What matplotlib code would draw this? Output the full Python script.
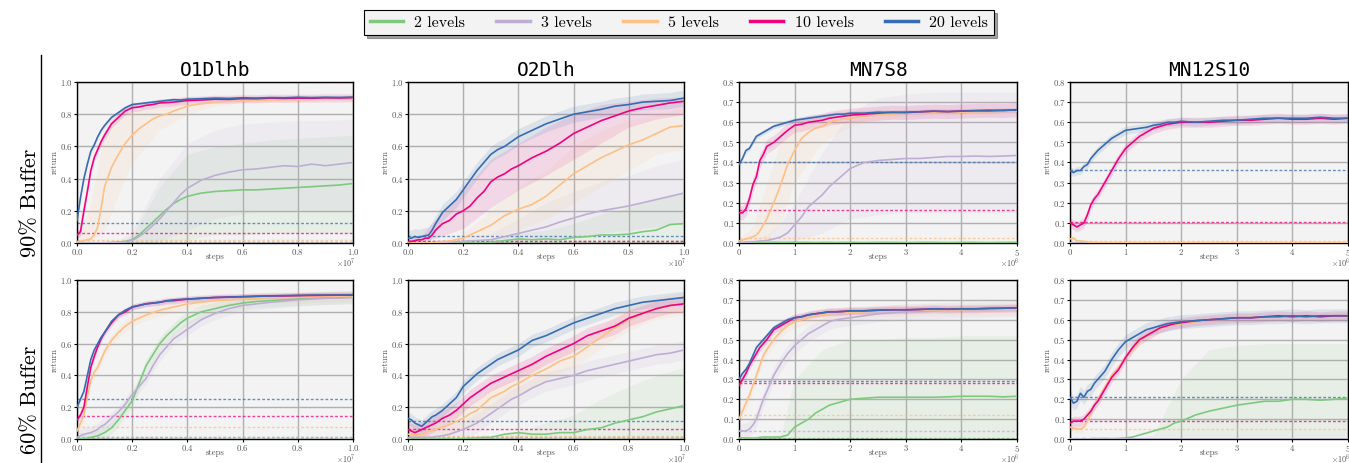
import numpy as np
import matplotlib
matplotlib.use("Agg")
import matplotlib.pyplot as plt
from matplotlib.lines import Line2D
from matplotlib.ticker import ScalarFormatter

plt.rcParams['font.family'] = ['cmr10', 'DejaVu Serif']
plt.rcParams['mathtext.fontset'] = 'cm'
plt.rcParams['axes.formatter.use_mathtext'] = True
plt.rcParams['axes.unicode_minus'] = False

# ---------------- data ----------------
LEVELS = ["2 levels", "3 levels", "5 levels", "10 levels", "20 levels"]
COLORS = ["#7fc97f", "#beaed4", "#fdc086", "#f0027f", "#386cb0"]
ENVS = ["O1Dlhb", "O2Dlh", "MN7S8", "MN12S10"]
ROWS = ["90% Buffer", "60% Buffer"]
MAX_STEPS = [1e7, 1e7, 5e6, 5e6]
Y_MAX = [1.0, 1.0, 0.8, 0.8]

# fraction of training progress at which values were read
FRAC = [0, 0.0125, 0.025, 0.0375, 0.05, 0.0625, 0.075, 0.0875, 0.1, 0.125, 0.15,
        0.175, 0.2, 0.225, 0.25, 0.275, 0.3, 0.325, 0.35, 0.375, 0.4, 0.45, 0.5,
        0.55, 0.6, 0.65, 0.7, 0.75, 0.8, 0.85, 0.9, 0.95, 1.0]
BAND_FRAC = [0, 0.05, 0.1, 0.15, 0.2, 0.3, 0.4, 0.5, 0.6, 0.7, 0.8, 0.9, 1.0]

# ---- 90% buffer, O1Dlhb ----
A_green = [0, 0, 0, 0, 0, 0, 0, 0, 0, 0.002, 0.005, 0.01, 0.02, 0.05, 0.09, 0.13, 0.17, 0.21, 0.245, 0.27, 0.29, 0.31, 0.32, 0.325, 0.33, 0.33, 0.335, 0.34, 0.345, 0.35, 0.355, 0.36, 0.37]
A_purple = [0, 0, 0, 0, 0, 0, 0, 0, 0.002, 0.003, 0.005, 0.008, 0.015, 0.04, 0.07, 0.11, 0.15, 0.20, 0.25, 0.30, 0.34, 0.39, 0.42, 0.44, 0.455, 0.46, 0.47, 0.48, 0.475, 0.49, 0.48, 0.49, 0.50]
A_orange = [0.01, 0.01, 0.015, 0.02, 0.025, 0.05, 0.10, 0.22, 0.35, 0.47, 0.55, 0.62, 0.67, 0.71, 0.74, 0.77, 0.79, 0.80, 0.82, 0.835, 0.85, 0.865, 0.875, 0.88, 0.882, 0.886, 0.888, 0.89, 0.89, 0.892, 0.893, 0.894, 0.895]
A_pink = [0.05, 0.07, 0.20, 0.32, 0.45, 0.53, 0.58, 0.63, 0.67, 0.74, 0.78, 0.82, 0.84, 0.845, 0.855, 0.86, 0.87, 0.872, 0.875, 0.88, 0.885, 0.888, 0.893, 0.892, 0.897, 0.896, 0.9, 0.898, 0.9, 0.899, 0.902, 0.901, 0.903]
A_blue = [0.14, 0.28, 0.40, 0.49, 0.57, 0.61, 0.66, 0.70, 0.73, 0.78, 0.81, 0.84, 0.86, 0.865, 0.87, 0.875, 0.88, 0.885, 0.89, 0.888, 0.893, 0.896, 0.9, 0.898, 0.902, 0.9, 0.903, 0.902, 0.905, 0.903, 0.905, 0.904, 0.906]
A_base = [0.005, 0.005, 0.02, 0.065, 0.125]
A_spread = [0.02, 0.02, 0.03, 0.025, 0.012]
A_green_lo = [0, 0, 0, 0, 0, 0, 0.02, 0.05, 0.05, 0.06, 0.06, 0.06, 0.06]
A_green_hi = [0, 0, 0, 0, 0.05, 0.35, 0.55, 0.60, 0.62, 0.64, 0.65, 0.66, 0.67]
A_purple_lo = [0, 0, 0, 0, 0, 0.01, 0.08, 0.15, 0.18, 0.20, 0.20, 0.20, 0.20]
A_purple_hi = [0, 0, 0, 0.01, 0.08, 0.40, 0.62, 0.70, 0.74, 0.75, 0.76, 0.76, 0.77]
A_orange_lo = [0.0, 0.01, 0.08, 0.30, 0.50, 0.70, 0.80, 0.85, 0.87, 0.875, 0.88, 0.885, 0.885]
A_orange_hi = [0.02, 0.25, 0.70, 0.78, 0.82, 0.86, 0.89, 0.90, 0.90, 0.90, 0.905, 0.905, 0.905]

# ---- 90% buffer, O2Dlh ----
B_green = [0, 0, 0, 0, 0, 0, 0, 0, 0, 0, 0, 0, 0, 0, 0, 0, 0.005, 0.01, 0.015, 0.02, 0.025, 0.02, 0.025, 0.02, 0.035, 0.04, 0.05, 0.05, 0.055, 0.07, 0.08, 0.115, 0.12]
B_purple = [0, 0, 0, 0, 0, 0, 0, 0, 0.002, 0.004, 0.006, 0.008, 0.01, 0.013, 0.015, 0.018, 0.02, 0.03, 0.04, 0.05, 0.06, 0.08, 0.10, 0.13, 0.155, 0.18, 0.20, 0.215, 0.23, 0.25, 0.27, 0.29, 0.31]
B_orange = [0, 0, 0, 0, 0, 0, 0, 0.002, 0.004, 0.008, 0.012, 0.02, 0.03, 0.05, 0.07, 0.09, 0.11, 0.14, 0.17, 0.19, 0.21, 0.24, 0.29, 0.36, 0.43, 0.48, 0.53, 0.57, 0.61, 0.64, 0.68, 0.72, 0.73]
B_pink = [0.01, 0.01, 0.015, 0.02, 0.02, 0.03, 0.03, 0.05, 0.08, 0.12, 0.14, 0.18, 0.20, 0.23, 0.28, 0.32, 0.38, 0.41, 0.43, 0.46, 0.48, 0.53, 0.57, 0.62, 0.68, 0.72, 0.76, 0.79, 0.82, 0.84, 0.855, 0.87, 0.88]
B_blue = [0.03, 0.03, 0.04, 0.035, 0.04, 0.045, 0.05, 0.08, 0.12, 0.19, 0.23, 0.27, 0.33, 0.39, 0.45, 0.50, 0.55, 0.58, 0.60, 0.63, 0.66, 0.70, 0.74, 0.77, 0.80, 0.815, 0.83, 0.85, 0.86, 0.875, 0.88, 0.885, 0.90]
B_base = [0.01, 0.01, 0.01, 0.015, 0.045]
B_spread = [0.02, 0.03, 0.06, 0.08, 0.05]
B_green_lo = [0, 0, 0, 0, 0, 0, 0, 0, 0, 0, 0, 0, 0]
B_green_hi = [0, 0, 0, 0, 0, 0.02, 0.06, 0.08, 0.12, 0.18, 0.22, 0.28, 0.32]
B_purple_lo = [0, 0, 0, 0, 0, 0, 0, 0.02, 0.04, 0.06, 0.08, 0.10, 0.12]
B_purple_hi = [0, 0, 0, 0.01, 0.02, 0.06, 0.15, 0.25, 0.32, 0.38, 0.42, 0.48, 0.52]
B_orange_lo = [0, 0, 0, 0, 0.01, 0.04, 0.08, 0.15, 0.25, 0.35, 0.45, 0.55, 0.58]
B_orange_hi = [0.01, 0.01, 0.01, 0.03, 0.06, 0.20, 0.35, 0.45, 0.60, 0.70, 0.76, 0.80, 0.84]
B_pink_lo = [0.0, 0.01, 0.03, 0.06, 0.09, 0.22, 0.33, 0.42, 0.52, 0.62, 0.72, 0.77, 0.80]
B_pink_hi = [0.02, 0.05, 0.15, 0.24, 0.33, 0.52, 0.62, 0.72, 0.80, 0.86, 0.88, 0.90, 0.91]

# ---- 90% buffer, MN7S8 ----
C_green = [0.003, 0.003, 0.002, 0.003, 0.004, 0.003, 0.003, 0.002, 0.003, 0.004, 0.003, 0.003, 0.004, 0.003, 0.003, 0.002, 0.003, 0.003, 0.002, 0.003, 0.003, 0.002, 0.003, 0.003, 0.002, 0.003, 0.003, 0.002, 0.003, 0.003, 0.002, 0.003, 0.003]
C_purple = [0, 0, 0.005, 0.005, 0.005, 0.008, 0.01, 0.01, 0.012, 0.02, 0.03, 0.05, 0.09, 0.13, 0.18, 0.21, 0.24, 0.28, 0.31, 0.34, 0.37, 0.40, 0.41, 0.415, 0.42, 0.42, 0.425, 0.43, 0.43, 0.432, 0.43, 0.432, 0.435]
C_orange = [0.01, 0.015, 0.02, 0.025, 0.03, 0.04, 0.06, 0.09, 0.12, 0.20, 0.29, 0.39, 0.46, 0.52, 0.55, 0.57, 0.58, 0.60, 0.61, 0.615, 0.62, 0.63, 0.635, 0.64, 0.645, 0.645, 0.648, 0.65, 0.65, 0.652, 0.653, 0.654, 0.655]
C_pink = [0.15, 0.15, 0.17, 0.22, 0.29, 0.33, 0.41, 0.44, 0.48, 0.50, 0.53, 0.56, 0.585, 0.59, 0.60, 0.605, 0.61, 0.62, 0.625, 0.63, 0.635, 0.64, 0.645, 0.65, 0.648, 0.652, 0.655, 0.653, 0.656, 0.658, 0.66, 0.658, 0.662]
C_blue = [0.39, 0.42, 0.46, 0.47, 0.50, 0.53, 0.54, 0.55, 0.56, 0.58, 0.59, 0.60, 0.61, 0.615, 0.62, 0.625, 0.63, 0.635, 0.64, 0.64, 0.645, 0.645, 0.65, 0.648, 0.65, 0.652, 0.655, 0.653, 0.655, 0.657, 0.656, 0.66, 0.66]
C_base = [0.002, 0.003, 0.025, 0.165, 0.40]
C_spread = [0.003, 0.05, 0.05, 0.035, 0.012]
C_purple_lo = [0, 0, 0, 0, 0.01, 0.05, 0.12, 0.14, 0.15, 0.15, 0.15, 0.15, 0.15]
C_purple_hi = [0.01, 0.02, 0.04, 0.10, 0.20, 0.45, 0.65, 0.72, 0.74, 0.75, 0.75, 0.75, 0.75]
C_orange_lo = [0, 0, 0.02, 0.10, 0.30, 0.50, 0.58, 0.61, 0.625, 0.635, 0.64, 0.64, 0.645]
C_orange_hi = [0.02, 0.08, 0.30, 0.50, 0.60, 0.64, 0.65, 0.66, 0.665, 0.665, 0.67, 0.67, 0.67]

# ---- 90% buffer, MN12S10 ----
D_green = [0.001] * 33
D_purple = [0.002] * 33
D_orange = [0.02, 0.025, 0.01, 0.01, 0.008, 0.005, 0.004, 0.003, 0.002, 0.002, 0.001, 0.002, 0.001, 0.002, 0.001, 0.002, 0.001, 0.002, 0.001, 0.002, 0.001, 0.002, 0.001, 0.002, 0.001, 0.002, 0.001, 0.002, 0.001, 0.002, 0.001, 0.002, 0.001]
D_pink = [0.10, 0.09, 0.08, 0.09, 0.10, 0.14, 0.19, 0.22, 0.24, 0.30, 0.36, 0.42, 0.47, 0.50, 0.53, 0.55, 0.57, 0.58, 0.59, 0.595, 0.60, 0.60, 0.60, 0.605, 0.61, 0.61, 0.615, 0.62, 0.615, 0.615, 0.62, 0.615, 0.62]
D_blue = [0.36, 0.35, 0.36, 0.36, 0.38, 0.39, 0.42, 0.44, 0.46, 0.49, 0.52, 0.54, 0.56, 0.565, 0.57, 0.575, 0.585, 0.59, 0.60, 0.60, 0.605, 0.60, 0.605, 0.61, 0.61, 0.615, 0.62, 0.62, 0.62, 0.62, 0.625, 0.62, 0.62]
D_base = [0.0, 0.0, 0.008, 0.105, 0.365]
D_spread = [0.002, 0.002, 0.01, 0.025, 0.02]

# ---- 60% buffer, O1Dlhb ----
E_green = [0.0, 0.0, 0.0, 0.005, 0.01, 0.015, 0.02, 0.03, 0.04, 0.07, 0.12, 0.18, 0.24, 0.35, 0.46, 0.53, 0.60, 0.65, 0.69, 0.73, 0.76, 0.80, 0.82, 0.84, 0.855, 0.865, 0.87, 0.875, 0.88, 0.885, 0.887, 0.89, 0.893]
E_purple = [0.01, 0.02, 0.03, 0.035, 0.04, 0.05, 0.06, 0.08, 0.09, 0.13, 0.17, 0.22, 0.28, 0.33, 0.38, 0.46, 0.53, 0.58, 0.63, 0.66, 0.69, 0.75, 0.79, 0.82, 0.84, 0.85, 0.86, 0.867, 0.875, 0.88, 0.885, 0.887, 0.89]
E_orange = [0.05, 0.10, 0.15, 0.27, 0.37, 0.42, 0.45, 0.50, 0.55, 0.62, 0.67, 0.71, 0.74, 0.76, 0.78, 0.795, 0.81, 0.82, 0.83, 0.84, 0.85, 0.86, 0.87, 0.875, 0.88, 0.885, 0.89, 0.89, 0.892, 0.895, 0.897, 0.898, 0.90]
E_pink = [0.12, 0.15, 0.20, 0.33, 0.45, 0.52, 0.58, 0.63, 0.67, 0.73, 0.78, 0.80, 0.83, 0.84, 0.85, 0.855, 0.86, 0.868, 0.87, 0.875, 0.88, 0.885, 0.89, 0.893, 0.895, 0.898, 0.9, 0.9, 0.902, 0.903, 0.904, 0.905, 0.905]
E_blue = [0.20, 0.25, 0.30, 0.40, 0.50, 0.56, 0.60, 0.64, 0.67, 0.74, 0.78, 0.81, 0.83, 0.84, 0.85, 0.855, 0.86, 0.87, 0.875, 0.878, 0.88, 0.885, 0.89, 0.892, 0.895, 0.897, 0.9, 0.902, 0.903, 0.905, 0.905, 0.905, 0.906]
E_base = [0.01, 0.01, 0.075, 0.145, 0.25]
E_spread = [0.04, 0.04, 0.035, 0.02, 0.015]

# ---- 60% buffer, O2Dlh ----
F_green = [0, 0, 0, 0, 0, 0, 0, 0, 0, 0, 0, 0, 0.003, 0.005, 0.007, 0.01, 0.01, 0.02, 0.03, 0.035, 0.04, 0.03, 0.03, 0.04, 0.04, 0.06, 0.07, 0.10, 0.12, 0.14, 0.17, 0.19, 0.21]
F_purple = [0.01, 0.01, 0.01, 0.01, 0.01, 0.01, 0.01, 0.01, 0.015, 0.02, 0.03, 0.045, 0.06, 0.08, 0.10, 0.13, 0.16, 0.19, 0.22, 0.25, 0.27, 0.32, 0.36, 0.38, 0.40, 0.43, 0.45, 0.47, 0.49, 0.51, 0.53, 0.54, 0.56]
F_orange = [0.03, 0.03, 0.025, 0.03, 0.03, 0.04, 0.05, 0.055, 0.06, 0.075, 0.09, 0.11, 0.13, 0.16, 0.18, 0.22, 0.26, 0.28, 0.30, 0.33, 0.35, 0.40, 0.44, 0.49, 0.52, 0.58, 0.64, 0.70, 0.75, 0.79, 0.82, 0.84, 0.85]
F_pink = [0.06, 0.05, 0.04, 0.05, 0.06, 0.07, 0.08, 0.09, 0.10, 0.13, 0.15, 0.18, 0.22, 0.26, 0.29, 0.32, 0.35, 0.37, 0.39, 0.41, 0.43, 0.47, 0.52, 0.56, 0.60, 0.65, 0.68, 0.71, 0.76, 0.79, 0.82, 0.84, 0.85]
F_blue = [0.13, 0.12, 0.10, 0.09, 0.08, 0.10, 0.12, 0.14, 0.15, 0.18, 0.22, 0.26, 0.33, 0.37, 0.41, 0.44, 0.47, 0.50, 0.52, 0.54, 0.56, 0.62, 0.65, 0.69, 0.73, 0.76, 0.79, 0.82, 0.84, 0.86, 0.87, 0.88, 0.89]
F_base = [0.01, 0.01, 0.02, 0.065, 0.115]
F_spread = [0.02, 0.06, 0.07, 0.05, 0.04]
F_green_lo = [0, 0, 0, 0, 0, 0, 0, 0, 0, 0, 0, 0, 0]
F_green_hi = [0, 0, 0, 0, 0, 0.01, 0.05, 0.10, 0.15, 0.25, 0.33, 0.40, 0.45]

# ---- 60% buffer, MN7S8 ----
G_green = [0.005, 0.005, 0.005, 0.005, 0.005, 0.005, 0.008, 0.01, 0.01, 0.01, 0.01, 0.02, 0.06, 0.08, 0.10, 0.13, 0.15, 0.17, 0.18, 0.19, 0.20, 0.205, 0.21, 0.21, 0.21, 0.21, 0.21, 0.212, 0.215, 0.215, 0.215, 0.212, 0.215]
G_purple = [0.04, 0.04, 0.04, 0.05, 0.07, 0.10, 0.15, 0.20, 0.24, 0.32, 0.38, 0.43, 0.47, 0.50, 0.53, 0.55, 0.57, 0.59, 0.60, 0.605, 0.61, 0.62, 0.63, 0.635, 0.64, 0.642, 0.645, 0.648, 0.65, 0.65, 0.652, 0.653, 0.655]
G_orange = [0.10, 0.14, 0.18, 0.22, 0.27, 0.32, 0.37, 0.42, 0.45, 0.50, 0.54, 0.57, 0.59, 0.60, 0.61, 0.62, 0.625, 0.63, 0.632, 0.635, 0.635, 0.64, 0.645, 0.645, 0.648, 0.65, 0.65, 0.65, 0.65, 0.652, 0.652, 0.653, 0.653]
G_pink = [0.27, 0.30, 0.33, 0.37, 0.40, 0.43, 0.46, 0.48, 0.50, 0.55, 0.57, 0.59, 0.61, 0.615, 0.625, 0.63, 0.635, 0.64, 0.64, 0.642, 0.645, 0.645, 0.648, 0.65, 0.65, 0.652, 0.655, 0.653, 0.655, 0.655, 0.657, 0.658, 0.66]
G_blue = [0.30, 0.33, 0.35, 0.38, 0.42, 0.46, 0.48, 0.50, 0.52, 0.56, 0.58, 0.60, 0.61, 0.615, 0.625, 0.63, 0.635, 0.64, 0.64, 0.642, 0.645, 0.645, 0.648, 0.65, 0.65, 0.652, 0.655, 0.653, 0.655, 0.655, 0.657, 0.658, 0.66]
G_base = [0.005, 0.04, 0.12, 0.283, 0.29]
G_spread = [0.01, 0.04, 0.03, 0.02, 0.015]
G_green_lo = [0, 0, 0, 0, 0, 0, 0, 0, 0, 0, 0, 0, 0]
G_green_hi = [0.01, 0.01, 0.01, 0.02, 0.30, 0.45, 0.50, 0.50, 0.51, 0.51, 0.52, 0.52, 0.52]

# ---- 60% buffer, MN12S10 ----
H_green = [0.0, 0.0, 0.002, 0.0, 0.003, 0.0, 0.002, 0.003, 0.002, 0.003, 0.002, 0.003, 0.005, 0.01, 0.02, 0.03, 0.04, 0.05, 0.06, 0.08, 0.09, 0.12, 0.14, 0.155, 0.17, 0.18, 0.19, 0.19, 0.20, 0.20, 0.195, 0.20, 0.205]
H_purple = [0.001] * 33
H_orange = [0.06, 0.055, 0.05, 0.05, 0.06, 0.09, 0.13, 0.17, 0.20, 0.26, 0.32, 0.36, 0.41, 0.45, 0.49, 0.52, 0.54, 0.555, 0.57, 0.575, 0.58, 0.59, 0.60, 0.605, 0.61, 0.61, 0.615, 0.615, 0.615, 0.62, 0.615, 0.618, 0.62]
H_pink = [0.08, 0.09, 0.09, 0.09, 0.10, 0.12, 0.14, 0.17, 0.19, 0.25, 0.31, 0.35, 0.41, 0.46, 0.50, 0.52, 0.54, 0.56, 0.57, 0.58, 0.585, 0.595, 0.60, 0.605, 0.61, 0.61, 0.615, 0.62, 0.615, 0.62, 0.615, 0.62, 0.62]
H_blue = [0.21, 0.18, 0.19, 0.23, 0.21, 0.24, 0.25, 0.28, 0.30, 0.34, 0.40, 0.45, 0.49, 0.51, 0.53, 0.55, 0.56, 0.57, 0.58, 0.585, 0.59, 0.595, 0.60, 0.605, 0.61, 0.61, 0.615, 0.615, 0.62, 0.615, 0.62, 0.62, 0.62]
H_base = [0.0, 0.0, 0.05, 0.09, 0.21]
H_spread = [0.01, 0.002, 0.02, 0.025, 0.035]
H_green_lo = [0, 0, 0, 0, 0, 0, 0, 0, 0, 0, 0, 0, 0]
H_green_hi = [0, 0, 0, 0, 0, 0.02, 0.30, 0.45, 0.47, 0.48, 0.48, 0.48, 0.48]

PANELS = [
    # (row, col, series, baselines, spreads, explicit bands {series index: (lo, hi)})
    (0, 0, [A_green, A_purple, A_orange, A_pink, A_blue], A_base, A_spread,
     {0: (A_green_lo, A_green_hi), 1: (A_purple_lo, A_purple_hi), 2: (A_orange_lo, A_orange_hi)}),
    (0, 1, [B_green, B_purple, B_orange, B_pink, B_blue], B_base, B_spread,
     {0: (B_green_lo, B_green_hi), 1: (B_purple_lo, B_purple_hi), 2: (B_orange_lo, B_orange_hi),
      3: (B_pink_lo, B_pink_hi)}),
    (0, 2, [C_green, C_purple, C_orange, C_pink, C_blue], C_base, C_spread,
     {1: (C_purple_lo, C_purple_hi), 2: (C_orange_lo, C_orange_hi)}),
    (0, 3, [D_green, D_purple, D_orange, D_pink, D_blue], D_base, D_spread, {}),
    (1, 0, [E_green, E_purple, E_orange, E_pink, E_blue], E_base, E_spread, {}),
    (1, 1, [F_green, F_purple, F_orange, F_pink, F_blue], F_base, F_spread,
     {0: (F_green_lo, F_green_hi)}),
    (1, 2, [G_green, G_purple, G_orange, G_pink, G_blue], G_base, G_spread,
     {0: (G_green_lo, G_green_hi)}),
    (1, 3, [H_green, H_purple, H_orange, H_pink, H_blue], H_base, H_spread,
     {0: (H_green_lo, H_green_hi)}),
]

# ---------------- layout ----------------
W, H = 1349, 463
fig = plt.figure(figsize=(W / 100, H / 100), dpi=100)

COL_LEFT = [77, 408, 739, 1070]
COL_W = [276, 276, 278, 278]
ROW_TOP = [82, 280]
ROW_H = [161, 159]

TICK_COLOR = "#555555"
FS = 6.3
frac = np.array(FRAC)
bfrac = np.array(BAND_FRAC)

for row, col, series, bases, spreads, bands in PANELS:
    left = COL_LEFT[col] / W
    width = COL_W[col] / W
    bottom = 1 - (ROW_TOP[row] + ROW_H[row]) / H
    height = ROW_H[row] / H
    ax = fig.add_axes([left, bottom, width, height])
    ax.set_facecolor("#f3f3f3")
    xmax = MAX_STEPS[col]
    x = frac * xmax
    xb = bfrac * xmax
    for i, (vals, color) in enumerate(zip(series, COLORS)):
        y = np.array(vals)
        if i in bands:
            lo, hi = bands[i]
            ax.fill_between(xb, lo, hi, color=color, alpha=0.11, lw=0, zorder=1)
        else:
            ax.fill_between(x, np.clip(y - spreads[i], 0, None), y + spreads[i],
                            color=color, alpha=0.12, lw=0, zorder=1)
    for i, (vals, color) in enumerate(zip(series, COLORS)):
        ax.axhline(bases[i], color=color, lw=1.0, ls=(0, (2, 1.5)), alpha=0.75, zorder=2)
    for i, (vals, color) in enumerate(zip(series, COLORS)):
        ax.plot(x, vals, color=color, lw=1.2, zorder=3 + i)

    ax.set_xlim(0, xmax)
    ax.set_ylim(0, Y_MAX[col])
    ax.grid(True, color="#b0b0b0", lw=1.0, zorder=0)
    ax.set_axisbelow(True)
    for sp in ax.spines.values():
        sp.set_color("black")
        sp.set_linewidth(1.0)
    fmt = ScalarFormatter(useMathText=True)
    fmt.set_powerlimits((0, 0))
    ax.xaxis.set_major_formatter(fmt)
    ax.tick_params(axis="both", labelsize=FS, labelcolor=TICK_COLOR, color="black",
                   length=2.0, width=0.8, direction="out", pad=0.8)
    ax.set_xlabel("steps", fontsize=FS, color=TICK_COLOR, va="top")
    ax.xaxis.set_label_coords(0.5, -0.062)
    ax.set_ylabel("return", fontsize=FS, color=TICK_COLOR, labelpad=1)
    ax.xaxis.get_offset_text().set_visible(False)
    exponent = int(np.floor(np.log10(xmax)))
    ax.text(0.975, -0.08, r"$\times10^{%d}$" % exponent, transform=ax.transAxes,
            ha="center", va="top", fontsize=5.8, color=TICK_COLOR)
    if row == 0:
        ax.set_title(ENVS[col], fontsize=14, family="DejaVu Sans Mono", pad=4)

# row labels and separator
fig.text(30 / W, 1 - 203 / H, ROWS[0], rotation=90, fontsize=16, ha="center", va="center")
fig.text(30 / W, 1 - 400 / H, ROWS[1], rotation=90, fontsize=16, ha="center", va="center")
fig.add_artist(Line2D([41 / W, 41 / W], [0, 1 - 55 / H], color="black", lw=1.0,
                      transform=fig.transFigure))

# legend
handles = [Line2D([], [], color=c, lw=2.5) for c in COLORS]
leg = fig.legend(handles, LEVELS, loc="center", bbox_to_anchor=(679 / W, 1 - 22.5 / H),
                 ncol=5, fontsize=11.5, frameon=True, fancybox=False, shadow=True,
                 edgecolor="black", facecolor="#f3f3f3", framealpha=1.0,
                 handlelength=2.1, columnspacing=1.95, handletextpad=0.7,
                 borderpad=0.35)
leg.get_frame().set_linewidth(0.8)

fig.savefig("out.png", dpi=100)
